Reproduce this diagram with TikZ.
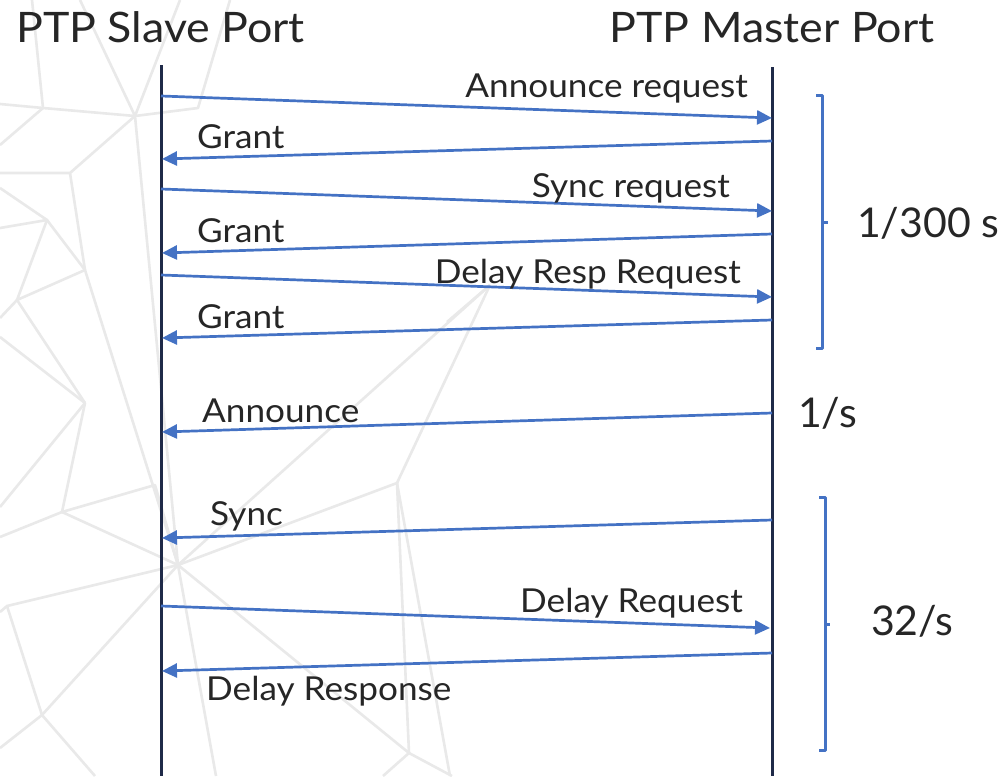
\documentclass[tikz,border=0pt]{standalone}
\usepackage{fontspec}
\setmainfont{Lato}
\newfontfamily\widefont[FakeStretch=1.065]{Lato}
\usetikzlibrary{arrows.meta}
\definecolor{msgblue}{HTML}{4472C4}
\definecolor{lifeln}{HTML}{1F2A48}
\definecolor{txt}{HTML}{262626}
\definecolor{bgline}{HTML}{E9E9E9}
\tikzset{
  bgedge/.style={draw=bgline, line width=2.6pt, line join=round},
  lifeline/.style={draw=lifeln, line width=3.6pt},
  msg/.style={draw=msgblue, line width=2.7pt, -{Triangle[length=15pt,width=14pt]}},
  lbl/.style={inner sep=0pt, text=txt, font=\widefont\fontsize{33}{36}\selectfont},
  title/.style={inner sep=0pt, text=txt, font=\widefont\fontsize{42}{46}\selectfont},
  rate/.style={inner sep=0pt, text=txt, font=\fontsize{41}{46}\selectfont},
  brack/.style={draw=msgblue, line width=3pt, line join=round}
}
\begin{document}
\begin{tikzpicture}[x=1pt,y=-1pt]
\useasboundingbox (0,0) rectangle (1003,776);
\fill[white] (0,0) rectangle (1003,776);
% decorative background mesh
\coordinate (A) at (43,108);
\coordinate (B) at (135,116);
\coordinate (C) at (198,108);
\coordinate (D) at (70,173);
\coordinate (E) at (85,270);
\coordinate (F) at (47,220);
\coordinate (G) at (17,300);
\coordinate (H) at (85,403);
\coordinate (J) at (62,512);
\coordinate (K) at (155,485);
\coordinate (L) at (178,565);
\coordinate (M) at (7,606);
\coordinate (N) at (42,715);
\coordinate (P) at (397,483);
\coordinate (Q) at (490,285);
\coordinate (R) at (409,753);
\path[bgedge] (0,104) -- (A) -- (B) -- (C) -- (230,0);
\path[bgedge] (A) -- (32,0);
\path[bgedge] (B) -- (80,0);
\path[bgedge] (B) -- (180,0);
\path[bgedge] (A) -- (0,145);
\path[bgedge] (0,173) -- (D) -- (B);
\path[bgedge] (D) -- (E);
\path[bgedge] (0,188) -- (F) -- (E);
\path[bgedge] (0,228) -- (F) -- (G) -- (E);
\path[bgedge] (G) -- (0,318);
\path[bgedge] (G) -- (H);
\path[bgedge] (0,337) -- (H);
\path[bgedge] (E) -- (L);
\path[bgedge] (B) -- (L);
\path[bgedge] (H) -- (0,507);
\path[bgedge] (H) -- (J) -- (K) -- (L) -- (J);
\path[bgedge] (0,537) -- (J);
\path[bgedge] (L) -- (M) -- (0,612);
\path[bgedge] (M) -- (N) -- (0,748);
\path[bgedge] (N) -- (95,776);
\path[bgedge] (L) -- (N);
\path[bgedge] (L) -- (216,776);
\path[bgedge] (L) -- (P) -- (Q);
\path[bgedge] (L) -- (Q);
\path[bgedge] (P) -- (R) -- (L);
\path[bgedge] (P) -- (450,776);
\path[bgedge] (R) -- (383,776);
\path[bgedge] (R) -- (452,776);
\path[bgedge] (Q) -- (447,322);
% titles
\node[title, anchor=base west] (slavet) at (16,42) {PTP Slave Port};
\node[title, anchor=base] (mastert) at (772,42) {PTP Master Port};
% lifelines
\coordinate (s0) at (161.5,65);
\coordinate (s1) at (161.5,776);
\coordinate (m0) at (772.5,67);
\coordinate (m1) at (772.5,776);
\draw[lifeline] (s0) -- (s1);
\draw[lifeline] (m0) -- (m1);
% message end points
\coordinate (a1) at (161,96);  \coordinate (b1) at (772,118);
\coordinate (a2) at (772,141); \coordinate (b2) at (162,159);
\coordinate (a3) at (161,189); \coordinate (b3) at (772,211);
\coordinate (a4) at (772,234); \coordinate (b4) at (162,253);
\coordinate (a5) at (161,275); \coordinate (b5) at (772,297);
\coordinate (a6) at (772,320); \coordinate (b6) at (162,338);
\coordinate (a7) at (772,413); \coordinate (b7) at (162,432);
\coordinate (a8) at (772,520); \coordinate (b8) at (162,538);
\coordinate (a9) at (161,606); \coordinate (b9) at (770,628);
\coordinate (a10) at (772,653); \coordinate (b10) at (162,671);
\draw[msg] (a1) -- (b1);
\draw[msg] (a2) -- (b2);
\draw[msg] (a3) -- (b3);
\draw[msg] (a4) -- (b4);
\draw[msg] (a5) -- (b5);
\draw[msg] (a6) -- (b6);
\draw[msg] (a7) -- (b7);
\draw[msg] (a8) -- (b8);
\draw[msg] (a9) -- (b9);
\draw[msg] (a10) -- (b10);
% labels
\node[lbl, anchor=base east] (l1) at (748,97) {Announce request};
\node[lbl, anchor=base west] (l2) at (197,148) {Grant};
\node[lbl, anchor=base east] (l3) at (730,197) {Sync request};
\node[lbl, anchor=base west] (l4) at (197,242) {Grant};
\node[lbl, anchor=base east] (l5) at (741,283) {Delay Resp Request};
\node[lbl, anchor=base west] (l6) at (197,328) {Grant};
\node[lbl, anchor=base west] (l7) at (202,422) {Announce};
\node[lbl, anchor=base west] (l8) at (210,525) {Sync};
\node[lbl, anchor=base east] (l9) at (743,612) {Delay Request};
\node[lbl, anchor=base west] (l10) at (206,700) {Delay Response};
% brackets
\draw[brack] (816,95) -- (822,95) -- (822,348) -- (816,348);
\draw[brack] (822,222) -- (828,222);
\draw[brack] (819,497) -- (825,497) -- (825,750) -- (819,750);
\draw[brack] (825,624) -- (830,624);
% rates
\node[rate, anchor=base west] (r1) at (857,237) {1/300 s};
\node[rate, anchor=base west] (r2) at (798,427) {1/s};
\node[rate, anchor=base west] (r3) at (871,635) {32/s};
\end{tikzpicture}
\end{document}
